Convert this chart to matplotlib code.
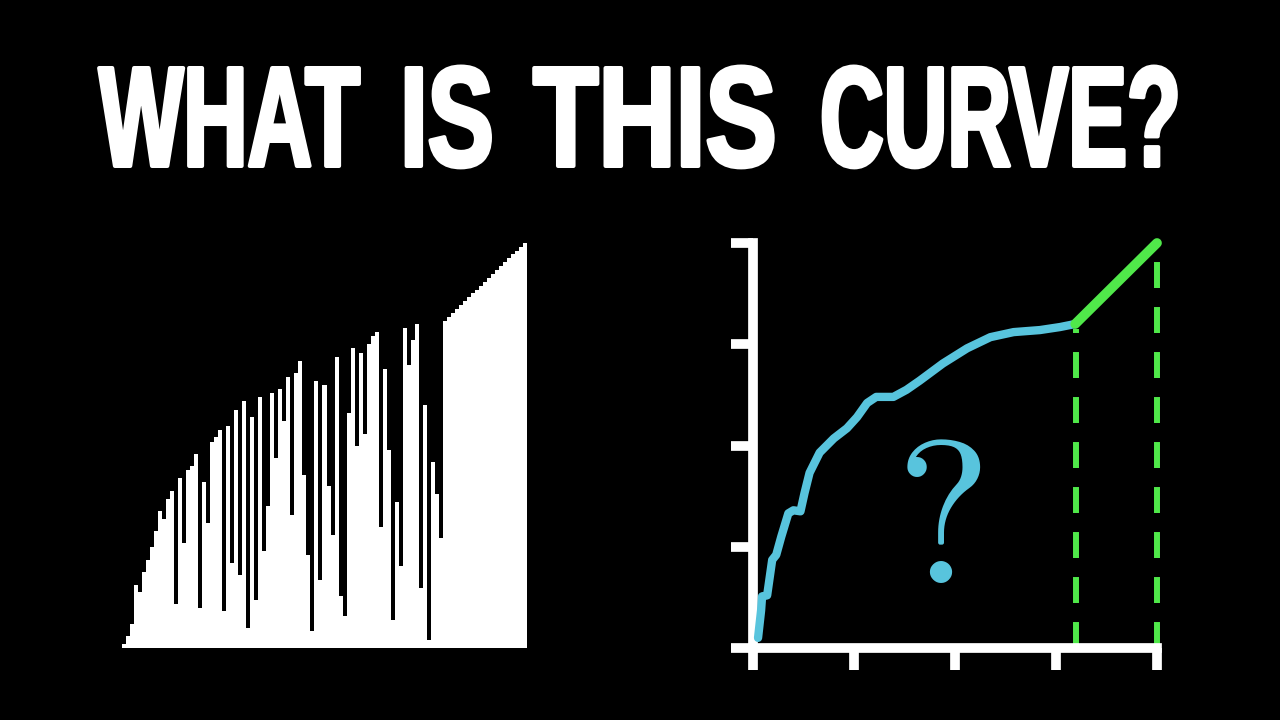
import numpy as np
import matplotlib
matplotlib.use('Agg')
import matplotlib.pyplot as plt
from matplotlib.patheffects import AbstractPathEffect
from matplotlib.transforms import Affine2D

# title words and where each one sits (left, right edge in pixels)
title_words = ['WHAT', 'IS', 'THIS', 'CURVE?']
word_spans = [(97, 362), (398, 496), (531, 779), (818, 1183)]

# left chart: bar heights (read in pixels above the baseline)
bar_heights = [4, 12, 24, 63, 56, 76, 88, 101, 117, 137,
               129, 149, 157, 44, 170, 105, 178, 182, 194, 40,
               166, 125, 206, 211, 218, 37, 222, 85, 238, 73,
               247, 20, 231, 48, 251, 97, 142, 255, 190, 259,
               227, 271, 133, 275, 287, 173, 93, 17, 267, 68,
               263, 162, 113, 291, 52, 32, 235, 300, 202, 295,
               214, 304, 312, 316, 121, 279, 198, 28, 146, 82,
               320, 283, 308, 324, 60, 243, 8, 186, 154, 110,
               327, 331, 335, 339, 343, 347, 351, 355, 358, 362,
               366, 370, 374, 378, 382, 386, 390, 394, 397, 401, 405]

# right chart: the blue curve, then the green extension
curve_x = [0.05, 0.08, 0.09, 0.14, 0.19, 0.23, 0.28, 0.35, 0.40, 0.47,
           0.51, 0.56, 0.66, 0.80, 0.93, 1.03, 1.13, 1.22, 1.39, 1.52,
           1.65, 1.88, 2.12, 2.35, 2.58, 2.84, 3.04, 3.19]
curve_y = [0.10, 0.37, 0.51, 0.52, 0.87, 0.92, 1.10, 1.33, 1.36, 1.35,
           1.53, 1.73, 1.93, 2.07, 2.17, 2.28, 2.42, 2.48, 2.48, 2.55,
           2.64, 2.81, 2.96, 3.07, 3.12, 3.14, 3.17, 3.20]
ext_x = [3.19, 4.0]
ext_y = [3.20, 4.0]
dash_x = [3.2, 4.0]
dash_top = [3.15, 3.85]
ticks = [0, 1, 2, 3, 4]

blue = '#58C4DD'
green = '#50E84A'


class Reshape(AbstractPathEffect):
    # scales the glyphs about (cx, by) and thickens them a little
    def __init__(self, sx, sy, cx, by, lw):
        super().__init__()
        self.tr = Affine2D().translate(-cx, -by).scale(sx, sy).translate(cx, by)
        self.lw = lw

    def draw_path(self, renderer, gc, tpath, affine, rgbFace=None):
        gc0 = renderer.new_gc()
        gc0.copy_properties(gc)
        gc0.set_linewidth(self.lw)
        gc0.set_foreground(rgbFace)
        gc0.set_joinstyle('round')
        renderer.draw_path(gc0, tpath, affine + self.tr, rgbFace)
        gc0.restore()


plt.rcParams['lines.scale_dashes'] = False
plt.rcParams['mathtext.fontset'] = 'cm'

fig = plt.figure(figsize=(12.8, 7.2), dpi=100, facecolor='black')
renderer = fig.canvas.get_renderer()

# title: tall narrow letters, drawn as stretched Liberation Sans Bold
stroke = 3.0
stroke_px = stroke * 100 / 72
fsize = 68
base_px = 720 - (168 - stroke_px / 2)
sy = (106 - stroke_px) / (0.716 * fsize * 100 / 72)
for word, (x0, x1) in zip(title_words, word_spans):
    cx = (x0 + x1) / 2
    t = fig.text(cx / 1280, base_px / 720, word, color='white',
                 fontsize=fsize, fontweight='bold', ha='center', va='baseline',
                 family=['Liberation Sans', 'DejaVu Sans'])
    w_nat = t.get_window_extent(renderer).width
    sx = (x1 - x0 - stroke_px) / w_nat
    t.set_path_effects([Reshape(sx, sy, cx, base_px, stroke)])

# bar chart
ax1 = fig.add_axes([122 / 1280, 72 / 720, 405 / 1280, 406 / 720])
ax1.set_facecolor('black')
ax1.bar(np.arange(len(bar_heights)), bar_heights, width=1.0,
        color='white', linewidth=0)
ax1.set_xlim(-0.5, len(bar_heights) - 0.5)
ax1.set_ylim(0, 406)
ax1.axis('off')

# curve chart
ax2 = fig.add_axes([753 / 1280, 72 / 720, 404 / 1280, 405 / 720])
ax2.set_facecolor('black')
ax2.set_xlim(0, 4)
ax2.set_ylim(0, 4)
for s in ['top', 'right']:
    ax2.spines[s].set_visible(False)
for s in ['left', 'bottom']:
    ax2.spines[s].set_color('white')
    ax2.spines[s].set_linewidth(7)
ax2.set_xticks(ticks)
ax2.set_yticks(ticks)
ax2.tick_params(colors='white', direction='out', length=16, width=7,
                labelbottom=False, labelleft=False)

for x, top in zip(dash_x, dash_top):
    ax2.plot([x, x], [0, top], color=green, lw=4.3,
             linestyle=(0, (18.7, 13.7)), clip_on=False, zorder=1)

ax2.plot(curve_x, curve_y, color=blue, lw=6, solid_capstyle='round',
         solid_joinstyle='round', clip_on=False, zorder=3)
ax2.plot(ext_x, ext_y, color=green, lw=7, solid_capstyle='round',
         clip_on=False, zorder=4)

ax2.text(1.83, 1.20, r'$?$', color=blue, fontsize=146,
         ha='center', va='center')

fig.savefig('out.png', dpi=100, facecolor='black')
